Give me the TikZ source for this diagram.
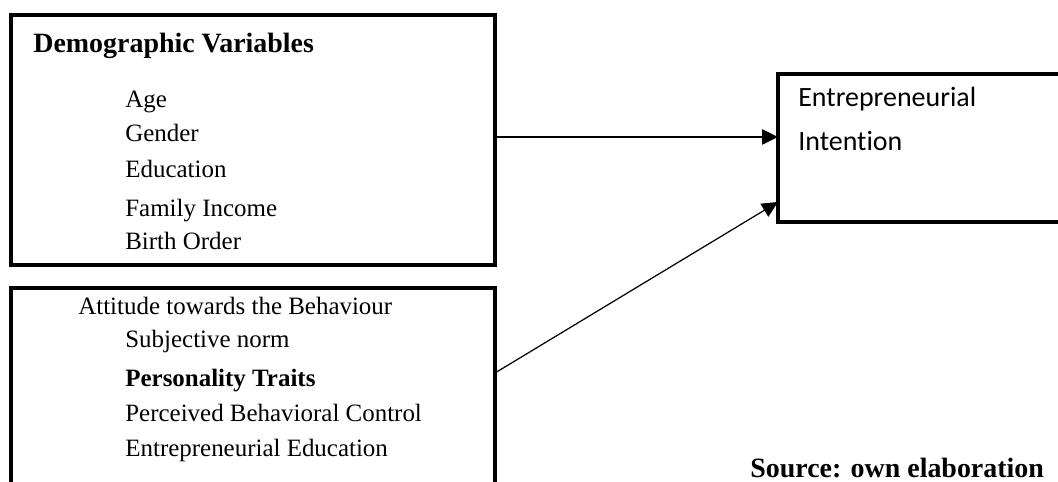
\documentclass[tikz,border=0pt]{standalone}
\usepackage{fontspec}
\setmainfont{Liberation Serif}
\newfontfamily\calibri[Ligatures={NoCommon,NoDiscretionary}]{Carlito}
\usetikzlibrary{arrows.meta}

\begin{document}
\begin{tikzpicture}[x=0.02cm, y=-0.02cm]
  \tikzstyle{box} = [draw, rectangle, line width=1.8pt, inner sep=0pt, outer sep=0pt]
  \tikzstyle{txt} = [anchor=base west, inner sep=0pt, font=\fontsize{14.2}{17}\selectfont]
  \tikzstyle{head} = [anchor=base west, inner sep=0pt, font=\fontsize{15.9}{19}\selectfont\bfseries]
  \tikzstyle{arr} = [-{Triangle[length=0.32cm, width=0.3cm]}]
  \useasboundingbox (0,0) rectangle (1058,482);
  \clip (0,0) rectangle (1058,482);

  % boxes
  \node[box, minimum width=9.68cm, minimum height=5cm] (demo) at (253,140) {};
  \node[box, minimum width=9.68cm, minimum height=4.64cm] (traits) at (253,404) {};
  \node[box, minimum width=6.04cm, minimum height=2.96cm] (intent) at (929,148) {};

  % texts
  \node[head] (demotitle) at (33,53) {Demographic Variables};
  \foreach \y/\t [count=\i] in {108/Age, 142/Gender, 178/Education, 217/Family Income, 250/Birth Order}
    \node[txt] (demo\i) at (125,\y) {\t};
  \node[txt] (att) at (78,315) {Attitude towards the Behaviour};
  \node[txt] (subj) at (125,348) {Subjective norm};
  \node[txt, font=\fontsize{14.2}{17}\selectfont\bfseries] (pers) at (125,387) {Personality Traits};
  \node[txt] (pbc) at (125,422) {Perceived Behavioral Control};
  \node[txt] (eedu) at (125,457) {Entrepreneurial Education};
  \node[txt, font=\fontsize{15.9}{19}\selectfont\calibri] (ei1) at (798,107) {Entrepreneurial};
  \node[txt, font=\fontsize{15.9}{19}\selectfont\calibri] (ei2) at (798,151) {Intention};
  \node[head] (src) at (750,478) {Source: own elaboration};

  % arrows
  \coordinate (t1) at ([yshift=0.62cm]traits.east);
  \coordinate (i1) at ([yshift=-1.08cm]intent.west);
  \draw[arr, line width=1.4pt] ([yshift=0.06cm]demo.east) -- ([yshift=0.06cm]demo.east -| intent.west);
  \draw[arr, line width=0.7pt] (t1) -- (i1);
\end{tikzpicture}
\end{document}
